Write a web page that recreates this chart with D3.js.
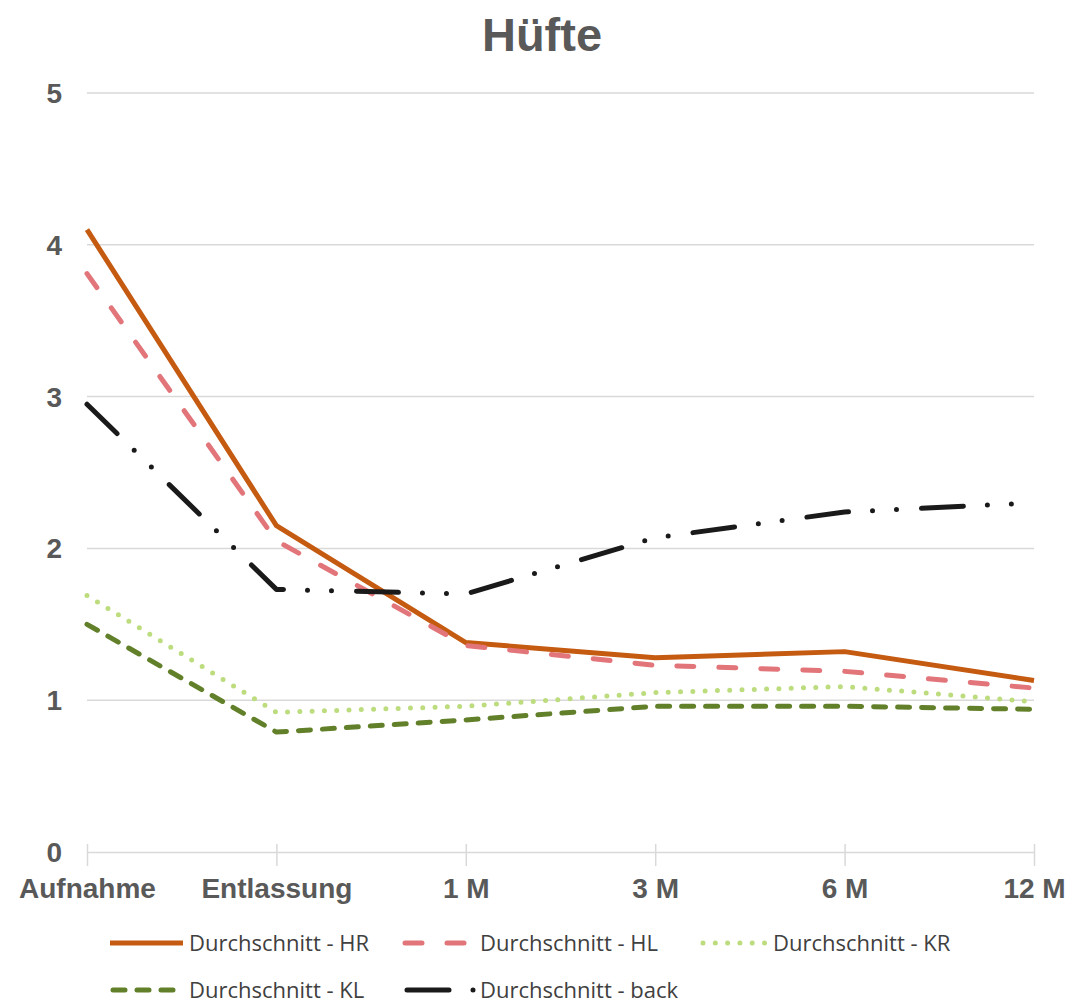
<!DOCTYPE html>
<html>
<head>
<meta charset="utf-8">
<script src="https://cdn.jsdelivr.net/npm/d3@7"></script>
<style>
  body { margin: 0; background: #fff; }
  svg { display: block; }
</style>
</head>
<body>
<div id="chart"></div>
<script>
// chart data
var categories = ["Aufnahme", "Entlassung", "1 M", "3 M", "6 M", "12 M"];
var yTicks = [0, 1, 2, 3, 4, 5];
var seriesNames = ["Durchschnitt - HR", "Durchschnitt - HL", "Durchschnitt - KR", "Durchschnitt - KL", "Durchschnitt - back"];
var hrValues = [4.10, 2.15, 1.38, 1.28, 1.32, 1.13];
var hlValues = [3.81, 2.05, 1.36, 1.23, 1.19, 1.08];
var krValues = [1.69, 0.92, 0.96, 1.05, 1.09, 0.99];
var klValues = [1.50, 0.79, 0.87, 0.96, 0.96, 0.94];
var backValues = [2.95, 1.73, 1.70, 2.07, 2.24, 2.30];

var styles = [
  {color: "#c55a11", dash: null},
  {color: "#e2757a", dash: "17 25"},
  {color: "#bcdc7e", dash: "0 12.3"},
  {color: "#62802a", dash: "12 12"},
  {color: "#1a1a1a", dash: "42 24 0 24 0 25"}
];

var series = [hrValues, hlValues, krValues, klValues, backValues].map(function(v, i) {
  return {name: seriesNames[i], values: v, color: styles[i].color, dash: styles[i].dash};
});

var width = 1072, height = 1005;
var margin = {top: 93, right: 38, bottom: 153, left: 87};

var svg = d3.select("#chart").append("svg")
    .attr("width", width)
    .attr("height", height);

var x = d3.scalePoint()
    .domain(categories)
    .range([margin.left, width - margin.right]);

var y = d3.scaleLinear()
    .domain([0, 5])
    .range([height - margin.bottom, margin.top]);

// title
svg.append("text")
    .attr("x", 542)
    .attr("y", 51)
    .attr("text-anchor", "middle")
    .attr("font-family", "Liberation Sans, Arial, sans-serif")
    .attr("font-weight", "bold")
    .attr("font-size", 47)
    .attr("fill", "#595959")
    .text("Hüfte");

// gridlines
svg.selectAll("line.grid").data(yTicks.filter(function(d) { return d > 0; })).enter()
  .append("line")
    .attr("class", "grid")
    .attr("x1", margin.left)
    .attr("x2", width - margin.right)
    .attr("y1", function(d) { return y(d); })
    .attr("y2", function(d) { return y(d); })
    .attr("stroke", "#d9d9d9")
    .attr("stroke-width", 1.5);

// y labels
svg.selectAll("text.ylab").data(yTicks).enter()
  .append("text")
    .attr("class", "ylab")
    .attr("x", 62)
    .attr("y", function(d) { return y(d) + 10; })
    .attr("text-anchor", "end")
    .attr("font-family", "Liberation Sans, Arial, sans-serif")
    .attr("font-weight", "bold")
    .attr("font-size", 28)
    .attr("fill", "#595959")
    .text(function(d) { return d; });

// x axis
var xAxis = svg.append("g")
    .attr("transform", "translate(0," + y(0) + ")")
    .call(d3.axisBottom(x).tickSizeInner(14).tickSizeOuter(0).tickPadding(12));
xAxis.select(".domain").attr("stroke", "#d9d9d9").attr("stroke-width", 1.5);
xAxis.selectAll(".tick line")
    .attr("stroke", "#d9d9d9")
    .attr("stroke-width", 1.5)
    .attr("y1", -8);
xAxis.selectAll(".tick text")
    .attr("font-family", "Liberation Sans, Arial, sans-serif")
    .attr("font-weight", "bold")
    .attr("font-size", 28)
    .attr("fill", "#595959");

// lines
var line = d3.line()
    .x(function(d, i) { return x(categories[i]); })
    .y(function(d) { return y(d); });

svg.selectAll("path.series").data(series).enter()
  .append("path")
    .attr("class", "series")
    .attr("d", function(d) { return line(d.values); })
    .attr("fill", "none")
    .attr("stroke", function(d) { return d.color; })
    .attr("stroke-width", 5)
    .attr("stroke-linecap", function(d) { return d.dash ? "round" : "butt"; })
    .attr("stroke-linejoin", "round")
    .attr("stroke-dasharray", function(d) { return d.dash; });

// legend
var legendPos = [
  {x1: 110, x2: 183, tx: 189, y: 943},
  {x1: 405, x2: 470, tx: 480, y: 943},
  {x1: 703, x2: 765, tx: 773, y: 943},
  {x1: 113, x2: 176, tx: 189, y: 990},
  {x1: 407, x2: 475, tx: 480, y: 990}
];

var legend = svg.selectAll("g.legend").data(series).enter()
  .append("g")
    .attr("class", "legend");

legend.append("line")
    .attr("x1", function(d, i) { return legendPos[i].x1; })
    .attr("x2", function(d, i) { return legendPos[i].x2; })
    .attr("y1", function(d, i) { return legendPos[i].y; })
    .attr("y2", function(d, i) { return legendPos[i].y; })
    .attr("stroke", function(d) { return d.color; })
    .attr("stroke-width", 5)
    .attr("stroke-linecap", function(d) { return d.dash ? "round" : "butt"; })
    .attr("stroke-dasharray", function(d) { return d.dash; });

legend.append("text")
    .attr("x", function(d, i) { return legendPos[i].tx; })
    .attr("y", function(d, i) { return legendPos[i].y + 8; })
    .attr("font-family", "Open Sans, sans-serif")
    .attr("font-size", 22)
    .attr("fill", "#404040")
    .text(function(d) { return d.name; });
</script>
</body>
</html>
